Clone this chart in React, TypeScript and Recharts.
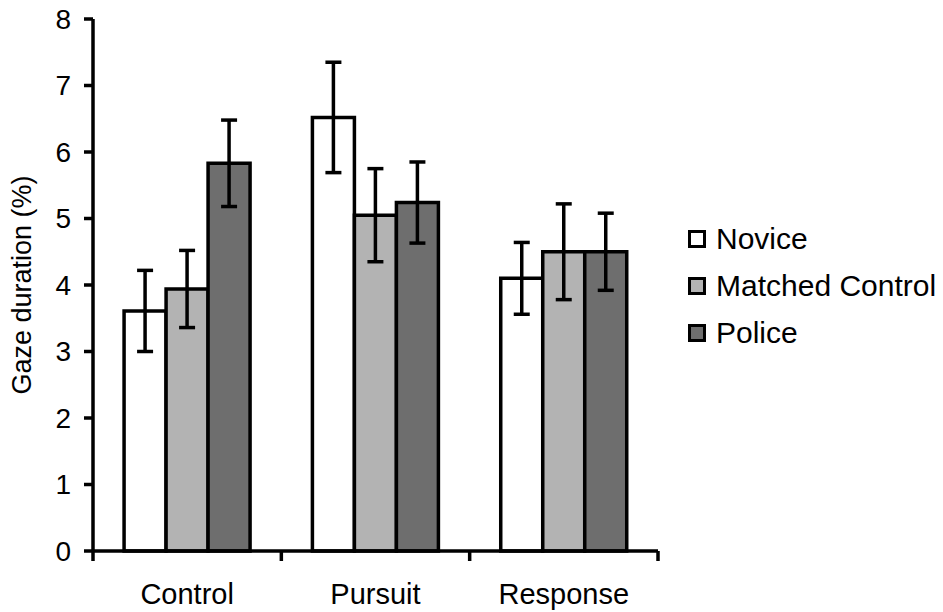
import { BarChart, Bar, XAxis, YAxis, ErrorBar, Legend } from "recharts"

const categories = ["Control", "Pursuit", "Response"]
const seriesNames = ["Novice", "Matched Control", "Police"]
const novice = [3.61, 6.52, 4.1]
const noviceErr = [0.61, 0.83, 0.54]
const matched = [3.94, 5.05, 4.5]
const matchedErr = [0.58, 0.7, 0.72]
const police = [5.83, 5.24, 4.5]
const policeErr = [0.65, 0.61, 0.58]
const yTicks = [0, 1, 2, 3, 4, 5, 6, 7, 8]

const colors = ["#ffffff", "#b3b3b3", "#6e6e6e"]
const keys = ["novice", "matched", "police"]

const data = categories.map((name, i) => ({
  name,
  novice: novice[i],
  noviceErr: noviceErr[i],
  matched: matched[i],
  matchedErr: matchedErr[i],
  police: police[i],
  policeErr: policeErr[i],
}))

const W = 943
const H = 612
const LEFT = 93
const RIGHT_EDGE = 658
const BAND = (RIGHT_EDGE - LEFT) / categories.length
const FONT = "'Liberation Sans', Arial, sans-serif"

const CategoryTick = (props: any) => {
  const { x, y, payload, index } = props
  const axisY = y - 32
  return (
    <g>
      <line x1={x - BAND / 2} x2={x - BAND / 2} y1={axisY} y2={axisY + 10} stroke="#000" strokeWidth={3.5} />
      {index === categories.length - 1 && (
        <line x1={x + BAND / 2} x2={x + BAND / 2} y1={axisY} y2={axisY + 10} stroke="#000" strokeWidth={3.5} />
      )}
      <text x={x} y={y} dy="0.71em" textAnchor="middle" fontSize={29} fill="#000" fontFamily={FONT}>
        {payload.value}
      </text>
    </g>
  )
}

const LegendBox = () => (
  <div style={{ paddingLeft: 30, fontFamily: FONT, fontSize: 30, color: "#000", whiteSpace: "nowrap" }}>
    {seriesNames.map((s, i) => (
      <div key={s} style={{ display: "flex", alignItems: "center", height: 47 }}>
        <span
          style={{
            display: "inline-block",
            flexShrink: 0,
            width: 12,
            height: 12,
            border: "3.5px solid #000",
            background: colors[i],
            marginRight: 10,
          }}
        />
        <span>{s}</span>
      </div>
    ))}
  </div>
)

export default function App() {
  return (
    <div>
      <style>{"body{margin:0}"}</style>
      <BarChart
        width={W}
        height={H}
        data={data}
        margin={{ top: 19, right: 28, bottom: 0, left: 0 }}
        barCategoryGap="16.5%"
        barGap={0}
      >
        <XAxis
          dataKey="name"
          height={61}
          tickLine={false}
          tickSize={0}
          tickMargin={32}
          axisLine={{ stroke: "#000", strokeWidth: 3.5 }}
          tick={<CategoryTick />}
          interval={0}
        />
        <YAxis
          width={LEFT}
          domain={[0, 8]}
          ticks={yTicks}
          interval={0}
          tickSize={9}
          tickMargin={13}
          axisLine={{ stroke: "#000", strokeWidth: 3.5 }}
          tickLine={{ stroke: "#000", strokeWidth: 3.5 }}
          tick={{ fill: "#000", fontSize: 28, fontFamily: FONT }}
          label={{
            value: "Gaze duration (%)",
            angle: -90,
            position: "insideLeft",
            offset: 21,
            style: { textAnchor: "middle", fontSize: 27, fill: "#000", fontFamily: FONT },
          }}
        />
        <Legend
          layout="vertical"
          align="right"
          verticalAlign="middle"
          width={257}
          wrapperStyle={{ top: 215 }}
          content={<LegendBox />}
        />
        {keys.map((k, i) => (
          <Bar
            key={k}
            dataKey={k}
            name={seriesNames[i]}
            fill={colors[i]}
            stroke="#000"
            strokeWidth={3.5}
            isAnimationActive={false}
          >
            <ErrorBar dataKey={k + "Err"} width={8} strokeWidth={3.5} stroke="#000" direction="y" />
          </Bar>
        ))}
      </BarChart>
    </div>
  )
}
